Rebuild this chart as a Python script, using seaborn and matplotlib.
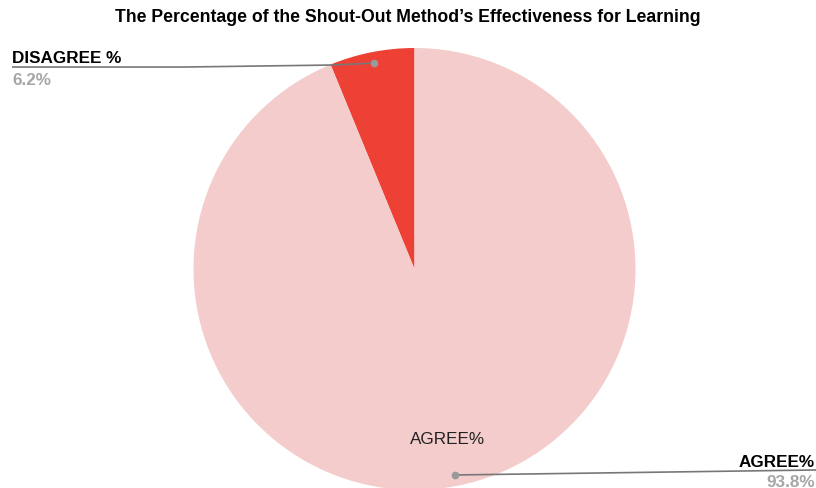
import numpy as np
import matplotlib
matplotlib.use('Agg')
import matplotlib.pyplot as plt
import seaborn as sns

# ── Data ──────────────────────────────────────────────────────────────────────
labels = ['DISAGREE %', 'AGREE%']
values = [6.2, 93.8]
colors = ['#EE4136', '#F4CCCC']

sns.set_theme(style='white')
plt.rcParams['font.family'] = ['Liberation Sans', 'DejaVu Sans']

fig = plt.figure(figsize=(8.16, 4.89), dpi=100)
ax = fig.add_axes([0, 0, 1, 1])

# pixel-like coordinates, y pointing up
cx, cy, r = 414.5, 219, 221
wedges, texts = ax.pie(values, colors=colors, startangle=90, counterclock=True,
                       center=(cx, cy), radius=r, labels=['', labels[1]],
                       labeldistance=0.78,
                       textprops=dict(fontsize=12.3, color='#222222'),
                       wedgeprops=dict(linewidth=0), frame=True)
texts[1].set_ha('center')
texts[1].set_va('center')
ax.set_xlim(0, 816)
ax.set_ylim(0, 489)
ax.axis('off')

# mid angles of each slice
starts = 90 + np.cumsum([0] + values[:-1]) * 3.6
mids = np.deg2rad(starts + np.array(values) * 1.8)

# DISAGREE leader
ang = mids[0]
px, py = cx + 0.95 * r * np.cos(ang), cy + 0.95 * r * np.sin(ang)
ax.plot([px, px - 41, 185, 12], [py, py - 2, py - 4, py - 4],
        color='#777777', linewidth=1.2, solid_capstyle='butt')
ax.plot(px, py, 'o', color='#999999', markersize=4.5)
ax.text(12, py + 1, labels[0], fontsize=12.3, fontweight='bold',
        color='black', ha='left', va='baseline')
ax.text(12, py - 21, f'{values[0]}%', fontsize=12.3, fontweight='bold',
        color='#A6A6A6', ha='left', va='baseline')

# AGREE leader
ang = mids[1]
px, py = cx + 0.95 * r * np.cos(ang), cy + 0.95 * r * np.sin(ang)
ax.plot([px, 816], [py, py + 5], color='#777777', linewidth=1.2)
ax.plot(px, py, 'o', color='#999999', markersize=4.5)
ax.text(815, py + 9, labels[1], fontsize=12.3, fontweight='bold',
        color='black', ha='right', va='baseline')
ax.text(815, py - 11, f'{values[1]}%', fontsize=12.3, fontweight='bold',
        color='#A6A6A6', ha='right', va='baseline')

fig.text(0.5, 1 - 18 / 489, "The Percentage of the Shout-Out Method\u2019s Effectiveness for Learning",
         ha='center', va='center', fontsize=12.7, fontweight='bold', color='black')

plt.savefig('out.png', dpi=100)
plt.close()
